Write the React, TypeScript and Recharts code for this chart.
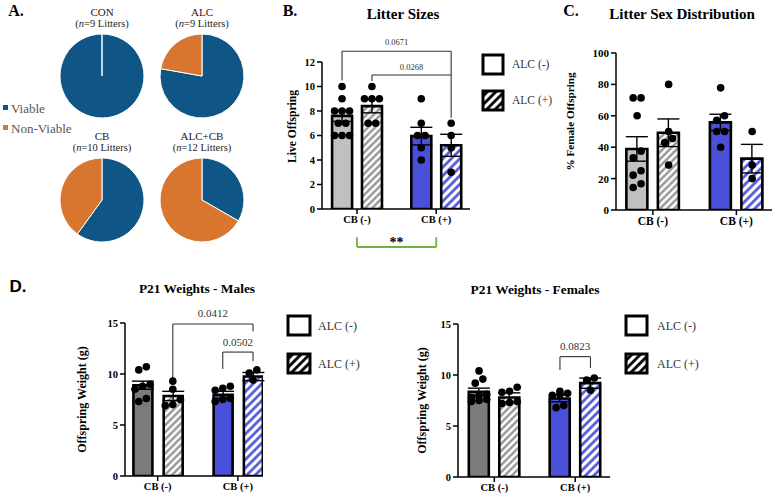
import React from 'react';
import {
  ComposedChart, Bar, Cell, ErrorBar, Scatter, XAxis, YAxis, ReferenceLine, PieChart, Pie,
} from 'recharts';

const SERIF = '"Liberation Serif", Tinos, "Times New Roman", Times, "DejaVu Serif", serif';
const SANS = '"Liberation Sans", Arimo, Arial, sans-serif';

// ---------- Panel A: viability pies ----------
const PIE_GROUPS = ['CON', 'ALC', 'CB', 'ALC+CB'];
const PIE_LITTERS = [9, 9, 10, 12];
const VIABLE_PCT = [100, 77.8, 60, 33.3];
const NONVIABLE_PCT = [0, 22.2, 40, 66.7];
const PIE_COLORS = ['#0f5687', '#d8762f'];

// ---------- shared categories ----------
const BAR_GROUPS = ['CON', 'ALC', 'CB', 'ALC+CB'];
const GROUP_TICK_LABELS = ['CB (-)', 'CB (+)'];
const LEGEND_LABELS = ['ALC (-)', 'ALC (+)'];

// ---------- Panel B: litter sizes ----------
const LITTER_MEAN = [7.6, 8.4, 5.95, 5.2];
const LITTER_SEM = [0.45, 0.55, 0.72, 0.9];
const LITTER_CON = [10, 9, 8, 8, 8, 7, 7, 6, 6, 6];
const LITTER_ALC = [10, 9, 9, 9, 7, 7];
const LITTER_CB = [9, 7, 6, 6, 5, 4];
const LITTER_ALCCB = [7, 6, 5, 3];
const LITTER_TICKS = [0, 2, 4, 6, 8, 10, 12];

// ---------- Panel C: % female ----------
const FEMALE_MEAN = [38.9, 49.2, 55.8, 32.7];
const FEMALE_SEM = [7.8, 8.8, 5.2, 9.1];
const FEMALE_CON = [71.4, 71.4, 60, 37.5, 33.3, 25, 22.2, 16.7, 14.3];
const FEMALE_ALC = [80, 50, 45.5, 42.9, 28.6];
const FEMALE_CB = [77.8, 60, 57.1, 50, 50, 40];
const FEMALE_ALCCB = [50, 28.6, 20];
const FEMALE_TICKS = [0, 20, 40, 60, 80, 100];

// ---------- Panel D: P21 weights ----------
const MALE_MEAN = [8.9, 7.85, 7.95, 9.75];
const MALE_SEM = [0.4, 0.45, 0.35, 0.4];
const MALE_CON = [10.7, 10.4, 9.0, 8.8, 8.5, 7.6, 7.3];
const MALE_ALC = [9.3, 8.5, 7.5, 7.0, 6.9];
const MALE_CB = [8.8, 8.6, 8.4, 7.6, 7.5, 7.3];
const MALE_ALCCB = [10.4, 10.1, 9.4];

const FEMALEW_MEAN = [8.36, 7.8, 7.7, 9.2];
const FEMALEW_SEM = [0.35, 0.45, 0.33, 0.5];
const FEMALEW_CON = [10.4, 9.6, 9.2, 8.1, 8.0, 7.8, 7.6, 7.5, 7.4];
const FEMALEW_ALC = [8.8, 8.4, 8.3, 7.4, 7.3, 7.2];
const FEMALEW_CB = [8.4, 8.2, 8.1, 8.0, 7.0, 6.8];
const FEMALEW_ALCCB = [9.7, 9.5, 8.5];
const WEIGHT_TICKS = [0, 5, 10, 15];

// ---------- annotations (bar index based) ----------
const B_BRACKETS = [
  { label: '0.0671', from: 0, to: 3, top: 12.88, leftEnd: 10.5, rightEnd: 10.94, offset: 6 },
  { label: '0.0268', from: 1, to: 3, top: 10.94, leftEnd: 10.45, rightEnd: 7.45, offset: 5 },
];
const B_GROUP_SIG = { label: '**', lower: -3.1, upper: -2.3 };
const DM_BRACKETS = [
  { label: '0.0412', from: 1, to: 3, top: 14.9, leftEnd: 9.6, rightEnd: 14.2, offset: 7 },
  { label: '0.0502', from: 2, to: 3, top: 12.15, leftEnd: 10.5, rightEnd: 11.25, offset: 6.5 },
];
const DF_BRACKETS = [
  { label: '0.0823', from: 2, to: 3, top: 11.8, leftEnd: 10.5, rightEnd: 10.7, offset: 7 },
];

// ---------- layout constants ----------
const SLOTS = [1, 2, 3.65, 4.65];
const GROUP_TICK_X = [1.5, 4.15];
const FILLS_LIGHT = ['#c0c0c0', 'url(#hatchGray)', '#4b50d8', 'url(#hatchBlue)'];
const FILLS_DARK = ['#7b7b7b', 'url(#hatchGray)', '#4b50d8', 'url(#hatchBlue)'];

type Pt = { px: number; y: number };

function swarm(groups: number[][], tol: number, dx: number): Pt[] {
  const out: Pt[] = [];
  groups.forEach((vals, g) => {
    const sorted = [...vals].sort((a, b) => a - b);
    let cluster: number[] = [];
    const flush = () => {
      cluster.forEach((v, i) => out.push({ px: SLOTS[g] + (i - (cluster.length - 1) / 2) * dx, y: v }));
      cluster = [];
    };
    sorted.forEach((v) => {
      if (cluster.length && (v - cluster[0] >= tol || cluster.length >= 3)) flush();
      cluster.push(v);
    });
    flush();
  });
  return out;
}

function Txt({ x, y, children, size = 12, bold = false, anchor = 'middle', color = '#000', family = SERIF, italic = false }: any) {
  const tx = anchor === 'middle' ? '-50%' : anchor === 'end' ? '-100%' : '0';
  return (
    <div style={{
      position: 'absolute', left: x, top: y, transform: `translate(${tx}, -50%)`, whiteSpace: 'nowrap',
      fontSize: size, lineHeight: 1, fontWeight: bold ? 'bold' : 'normal', fontStyle: italic ? 'italic' : 'normal',
      color, fontFamily: family,
    }}>{children}</div>
  );
}

const yTitle = (text: string, dx: number, dy: number, size: number) => (props: any) => {
  const vb = props && props.viewBox ? props.viewBox : { x: 0, y: 0, width: 0, height: 0 };
  const x = (vb.x || 0) + dx;
  const y = (vb.y || 0) + (vb.height || 0) / 2 + dy;
  return (
    <text x={x} y={y} transform={`rotate(-90 ${x} ${y})`} textAnchor="middle" dominantBaseline="central"
      style={{ fontFamily: SERIF }} fontWeight="bold" fontSize={size} fill="#000">{text}</text>
  );
};

function bracketLines(prefix: string, list: any[], fontSize: number) {
  const els: any[] = [];
  const st = { stroke: '#333', strokeWidth: 1.1 };
  list.forEach((b, i) => {
    const xl = SLOTS[b.from];
    const xr = SLOTS[b.to];
    els.push(
      <ReferenceLine key={`${prefix}h${i}`} segment={[{ x: xl, y: b.top }, { x: xr, y: b.top }]} {...st} ifOverflow="visible"
        label={{ value: b.label, position: 'top', offset: b.offset, fill: '#333', fontSize, style: { fontFamily: SERIF } }} />,
      <ReferenceLine key={`${prefix}l${i}`} segment={[{ x: xl, y: b.top }, { x: xl, y: b.leftEnd }]} {...st} ifOverflow="visible" />,
      <ReferenceLine key={`${prefix}r${i}`} segment={[{ x: xr, y: b.top }, { x: xr, y: b.rightEnd }]} {...st} ifOverflow="visible" />,
    );
  });
  return els;
}

function BarPanel(p: any) {
  const table = SLOTS.map((x, i) => ({ x, group: BAR_GROUPS[i], mean: p.means[i], sem: p.sems[i] }));
  const pts = swarm(p.points, p.tol, p.dx);
  const margin = {
    left: p.plot.x0 - p.box.left - p.yw,
    right: p.box.left + p.box.width - p.plot.x1,
    top: p.plot.y0 - p.box.top,
    bottom: p.box.top + p.box.height - p.plot.y1 - p.xh,
  };
  const axisStyle = { stroke: '#000', strokeWidth: 1.5 };
  const tickFont = { fontFamily: SERIF };
  return (
    <div style={{ position: 'absolute', left: p.box.left, top: p.box.top }}>
      <ComposedChart width={p.box.width} height={p.box.height} data={table} margin={margin}>
        <XAxis xAxisId="bars" type="number" dataKey="x" domain={p.xDomain} allowDataOverflow ticks={GROUP_TICK_X} height={p.xh}
          tickFormatter={(v: number) => GROUP_TICK_LABELS[Math.abs(v - GROUP_TICK_X[0]) < 0.01 ? 0 : 1]}
          axisLine={axisStyle} tickLine={axisStyle} tickSize={5} tickMargin={2}
          tick={{ fill: '#000', fontSize: p.xTickSize, fontWeight: 'bold', style: tickFont }} />
        <XAxis xAxisId="dots" type="number" dataKey="px" domain={p.xDomain} allowDataOverflow hide height={0} />
        <YAxis type="number" domain={[p.yTicks[0], p.yTicks[p.yTicks.length - 1]]} ticks={p.yTicks} width={p.yw}
          allowDataOverflow interval={0}
          axisLine={axisStyle} tickLine={axisStyle} tickSize={5} tickMargin={2}
          tick={{ fill: '#000', fontSize: p.yTickSize, fontWeight: 'bold', style: tickFont }}
          label={{ content: yTitle(p.yTitle, p.titleDx, p.titleDy, p.titleSize) }} />
        <Bar xAxisId="bars" dataKey="mean" barSize={p.barSize} stroke="#000" strokeWidth={2.6} isAnimationActive={false}>
          {table.map((d, i) => <Cell key={d.group} fill={p.fills[i]} />)}
          <ErrorBar dataKey="sem" width={11} stroke="#000" strokeWidth={1.4} direction="y" />
        </Bar>
        {(p.extra || []).map((el: any) => React.cloneElement(el, { xAxisId: 'bars' }))}
        <Scatter xAxisId="dots" data={pts} dataKey="y" isAnimationActive={false}
          shape={(s: any) => <circle cx={s.cx} cy={s.cy} r={3.8} fill="#000" />} />
      </ComposedChart>
    </div>
  );
}

function AlcLegend({ x, y1, y2, w, h, textX, size }: any) {
  return (
    <>
      <svg style={{ position: 'absolute', left: 0, top: 0 }} width={776} height={497}>
        <rect x={x} y={y1} width={w} height={h} fill="#fff" stroke="#000" strokeWidth={3} />
        <rect x={x} y={y2} width={w} height={h} fill="url(#hatchBlack)" stroke="#000" strokeWidth={3} />
      </svg>
      <Txt x={textX} y={y1 + h / 2} size={size} anchor="start" color="#333">{LEGEND_LABELS[0]}</Txt>
      <Txt x={textX} y={y2 + h / 2} size={size} anchor="start" color="#333">{LEGEND_LABELS[1]}</Txt>
    </>
  );
}

const PIE_POS = [
  { cx: 102, cy: 76 }, { cx: 202, cy: 76 }, { cx: 102, cy: 200 }, { cx: 202, cy: 200 },
];

export default function App() {
  const pieData = PIE_GROUPS.map((g, i) => [
    { name: 'Viable', value: VIABLE_PCT[i] },
    { name: 'Non-Viable', value: NONVIABLE_PCT[i] },
  ]);

  const greenX = GROUP_TICK_X;
  const gStyle = { stroke: '#6db33f', strokeWidth: 1.8 };
  const bExtra = [
    ...bracketLines('b', B_BRACKETS, 8.5),
    <ReferenceLine key="g1" segment={[{ x: greenX[0], y: B_GROUP_SIG.lower }, { x: greenX[1], y: B_GROUP_SIG.lower }]} {...gStyle} ifOverflow="visible"
      label={{ value: B_GROUP_SIG.label, position: 'top', offset: 0, fill: '#000', fontSize: 14, fontWeight: 'bold', style: { fontFamily: SERIF } }} />,
    <ReferenceLine key="g2" segment={[{ x: greenX[0], y: B_GROUP_SIG.lower }, { x: greenX[0], y: B_GROUP_SIG.upper }]} {...gStyle} ifOverflow="visible" />,
    <ReferenceLine key="g3" segment={[{ x: greenX[1], y: B_GROUP_SIG.lower }, { x: greenX[1], y: B_GROUP_SIG.upper }]} {...gStyle} ifOverflow="visible" />,
  ];

  return (
    <div style={{ position: 'absolute', left: 0, top: 0, width: 776, height: 497, background: '#fff', overflow: 'hidden', fontFamily: SERIF }}>
      <svg width={0} height={0} style={{ position: 'absolute' }}>
        <defs>
          <pattern id="hatchGray" width={5} height={5} patternUnits="userSpaceOnUse" patternTransform="rotate(45)">
            <rect width={5} height={5} fill="#fff" />
            <line x1={1.5} y1={0} x2={1.5} y2={5} stroke="#8a8a8a" strokeWidth={2.2} />
          </pattern>
          <pattern id="hatchBlue" width={6} height={6} patternUnits="userSpaceOnUse" patternTransform="rotate(45)">
            <rect width={6} height={6} fill="#fff" />
            <line x1={1.5} y1={0} x2={1.5} y2={6} stroke="#4b50d8" strokeWidth={2.6} />
          </pattern>
          <pattern id="hatchBlack" width={6} height={6} patternUnits="userSpaceOnUse" patternTransform="rotate(45)">
            <rect width={6} height={6} fill="#fff" />
            <line x1={1.5} y1={0} x2={1.5} y2={6} stroke="#000" strokeWidth={2.8} />
          </pattern>
        </defs>
      </svg>

      {/* Panel A */}
      <div style={{ position: 'absolute', left: 0, top: 0 }}>
        <PieChart width={260} height={260} margin={{ top: 0, right: 0, bottom: 0, left: 0 }}>
          {pieData.map((d, i) => (
            <Pie key={PIE_GROUPS[i]} data={d} dataKey="value" nameKey="name" cx={PIE_POS[i].cx} cy={PIE_POS[i].cy}
              outerRadius={42} innerRadius={0} startAngle={90} endAngle={-270} stroke="#fff" strokeWidth={1}
              isAnimationActive={false} label={false} labelLine={false}>
              {d.map((s, j) => <Cell key={s.name} fill={PIE_COLORS[j]} />)}
            </Pie>
          ))}
        </PieChart>
      </div>
      <Txt x={16} y={11} size={16} bold>A.</Txt>
      {PIE_GROUPS.map((g, i) => (
        <React.Fragment key={g}>
          <Txt x={PIE_POS[i].cx} y={PIE_POS[i].cy - 64.5} size={11} color="#222">{g}</Txt>
          <Txt x={PIE_POS[i].cx} y={PIE_POS[i].cy - 52} size={10.5} color="#222">
            (<i>n</i>={PIE_LITTERS[i]} Litters)
          </Txt>
        </React.Fragment>
      ))}
      <div style={{ position: 'absolute', left: 3, top: 105, width: 5, height: 5, background: PIE_COLORS[0] }} />
      <Txt x={11} y={108} size={13} anchor="start" color="#555">Viable</Txt>
      <div style={{ position: 'absolute', left: 3, top: 125, width: 5, height: 5, background: PIE_COLORS[1] }} />
      <Txt x={11} y={128} size={13} anchor="start" color="#555">Non-Viable</Txt>

      {/* Panel B */}
      <Txt x={290} y={11} size={16} bold>B.</Txt>
      <Txt x={403} y={14} size={15} bold>Litter Sizes</Txt>
      <BarPanel
        box={{ left: 260, top: 0, width: 258, height: 262 }}
        plot={{ x0: 322, x1: 470, y0: 62, y1: 209 }} yw={40} xh={30}
        xDomain={[0.33, 5.28]} yTicks={LITTER_TICKS}
        means={LITTER_MEAN} sems={LITTER_SEM}
        points={[LITTER_CON, LITTER_ALC, LITTER_CB, LITTER_ALCCB]} tol={0.5} dx={0.25}
        fills={FILLS_LIGHT} barSize={20}
        yTitle="Live Offspring" titleDx={10} titleDy={-9} titleSize={11.6}
        xTickSize={10.5} yTickSize={10.5}
        extra={bExtra}
      />
      <AlcLegend x={483} y1={55} y2={91} w={20} h={19} textX={512} size={11.5} />

      {/* Panel C */}
      <Txt x={571} y={11} size={16} bold>C.</Txt>
      <Txt x={682} y={14} size={15} bold>Litter Sex Distribution</Txt>
      <BarPanel
        box={{ left: 520, top: 0, width: 256, height: 262 }}
        plot={{ x0: 616, x1: 772, y0: 53, y1: 210 }} yw={50} xh={30}
        xDomain={[0.33, 5.28]} yTicks={FEMALE_TICKS}
        means={FEMALE_MEAN} sems={FEMALE_SEM}
        points={[FEMALE_CON, FEMALE_ALC, FEMALE_CB, FEMALE_ALCCB]} tol={4.5} dx={0.25}
        fills={FILLS_LIGHT} barSize={21}
        yTitle="% Female Offspring" titleDx={4} titleDy={-10} titleSize={11.2}
        xTickSize={11.5} yTickSize={11}
      />

      {/* Panel D */}
      <Txt x={18} y={286} size={17} bold family={SANS}>D.</Txt>
      <Txt x={197} y={289} size={13.4} bold>P21 Weights - Males</Txt>
      <BarPanel
        box={{ left: 0, top: 270, width: 280, height: 227 }}
        plot={{ x0: 125, x1: 263, y0: 323, y1: 476 }} yw={50} xh={20}
        xDomain={[0.42, 4.98]} yTicks={WEIGHT_TICKS}
        means={MALE_MEAN} sems={MALE_SEM}
        points={[MALE_CON, MALE_ALC, MALE_CB, MALE_ALCCB]} tol={0.69} dx={0.25}
        fills={FILLS_DARK} barSize={19}
        yTitle="Offspring Weight (g)" titleDx={7} titleDy={0} titleSize={12}
        xTickSize={10.5} yTickSize={10.5}
        extra={bracketLines('dm', DM_BRACKETS, 11)}
      />
      <AlcLegend x={288} y1={316} y2={354} w={22} h={19} textX={318} size={12} />

      <Txt x={535} y={290} size={13.4} bold>P21 Weights - Females</Txt>
      <BarPanel
        box={{ left: 390, top: 270, width: 240, height: 227 }}
        plot={{ x0: 458, x1: 610, y0: 324, y1: 477 }} yw={40} xh={20}
        xDomain={[0.31, 5.29]} yTicks={WEIGHT_TICKS}
        means={FEMALEW_MEAN} sems={FEMALEW_SEM}
        points={[FEMALEW_CON, FEMALEW_ALC, FEMALEW_CB, FEMALEW_ALCCB]} tol={0.69} dx={0.25}
        fills={FILLS_DARK} barSize={20}
        yTitle="Offspring Weight (g)" titleDx={4} titleDy={0} titleSize={12}
        xTickSize={10.5} yTickSize={10.5}
        extra={bracketLines('df', DF_BRACKETS, 11)}
      />
      <AlcLegend x={626} y1={316} y2={354} w={21} h={19} textX={657} size={12} />
    </div>
  );
}
